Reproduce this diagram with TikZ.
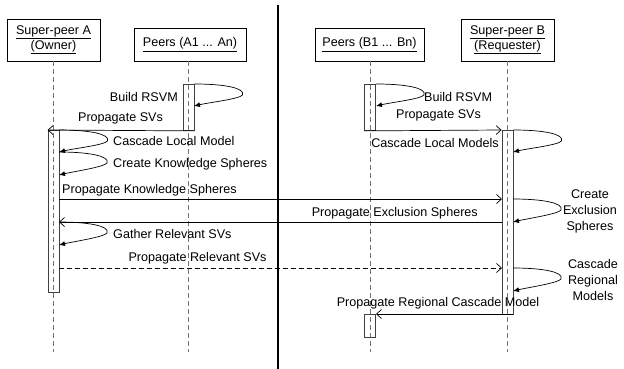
\documentclass[tikz,border=0pt]{standalone}
\usepackage{fontspec}
\setmainfont{Liberation Sans}
\usetikzlibrary{arrows.meta,calc}
\begin{document}
\begin{tikzpicture}[x=1pt,y=-1pt,
 every node/.style={font=\fontsize{12.6}{15}\selectfont},
 head/.style={draw,fill=white,align=center,inner sep=0pt,line width=0.8pt},
 act/.style={draw=black!75,line width=0.9pt,inner sep=0pt,minimum width=11pt,anchor=north},
 life/.style={draw=black!55,dash pattern=on 5pt off 3pt,line width=0.7pt},
 msg/.style={draw,line width=0.7pt,-{Straight Barb[length=5pt,width=9pt]}},
 self/.style={draw,line width=0.7pt,-{Latex[length=6pt,width=5pt]}},
 lbl/.style={inner sep=0pt},
 multi/.style={inner sep=0pt,align=center,font=\fontsize{12.6}{16}\selectfont}]
\useasboundingbox (0,0) rectangle (624,369);
% headers
\node[head,minimum width=93pt,minimum height=42pt] (sa) at (53.5,40) {\underline{Super-peer A}\\\underline{(Owner)}};
\node[head,minimum width=112pt,minimum height=33pt] (pa) at (190,44.5) {\underline{Peers (A1 ... An)}};
\node[head,minimum width=109pt,minimum height=33pt] (pb) at (369.5,44.5) {\underline{Peers (B1 ... Bn)}};
\node[head,minimum width=93pt,minimum height=42pt] (sb) at (507.5,40) {\underline{Super-peer B}\\\underline{(Requester)}};
% lifelines
\coordinate (saend) at (53.5,352);
\coordinate (patop) at (188.5,61);
\coordinate (paend) at (188.5,352);
\coordinate (pbtop) at (370,61);
\coordinate (pbend) at (370,352);
\coordinate (sbend) at (507.5,352);
\draw[life] (sa.south) -- (saend);
\draw[life] (patop) -- (paend);
\draw[life] (pbtop) -- (pbend);
\draw[life] (sb.south) -- (sbend);
% divider
\coordinate (dtop) at (278,5);
\coordinate (dbot) at (278,369);
\draw[line width=2pt] (dtop) -- (dbot);
% activation boxes
\node[act,minimum height=162pt] (sa1) at (53.5,130) {};
\node[act,minimum height=46pt] (pa1) at (188.5,84) {};
\node[act,minimum height=46pt] (pb1) at (370,84) {};
\node[act,minimum height=184pt] (sb1) at (507.5,130) {};
\node[act,minimum height=23pt] (pb2) at (370,314) {};
% self-message endpoints
\coordinate (pa1b) at (194,106);
\coordinate (pb1b) at (376,106);
\coordinate (sa1m) at (59,152);
\coordinate (sa1c) at (59,175);
\coordinate (sa1d) at (59,222);
\coordinate (sa1e) at (59,245);
\coordinate (sb1m) at (513,152);
\coordinate (sb1c) at (513,199);
\coordinate (sb1d) at (513,222);
\coordinate (sb1e) at (513,268);
\coordinate (sb1f) at (513,291);
\coordinate (sb1g) at (513,314);
\coordinate (sa1k) at (59,199);
\coordinate (sa1r) at (59,268);
\coordinate (sb1k) at (502,199);
\coordinate (sb1r) at (502,268);
% self messages (teardrop loops)
\tikzset{loopto/.style={to path={.. controls +(30,0) and +(3,-7) .. ++(48,11) .. controls +(-3,4) and +(16,-3.7) .. (\tikztotarget)}}}
\draw[self] (pa1.north east) to[loopto] (pa1b);
\draw[self] (pb1.north east) to[loopto] (pb1b);
\draw[self] (sa1.north east) to[loopto] (sa1m);
\draw[self] (sa1m) to[loopto] (sa1c);
\draw[self] (sa1d) to[loopto] (sa1e);
\draw[self] (sb1.north east) to[loopto] (sb1m);
\draw[self] (sb1c) to[loopto] (sb1d);
\draw[self] (sb1e) to[loopto] (sb1f);
% messages
\draw[msg] (pa1.south east) -- (sa1.north west);
\draw[msg] (pb1.south west) -- (sb1.north west);
\draw[msg] (sa1k) -- (sb1k);
\draw[msg] (sb1d -| sb1.west) -- (sa1d);
\draw[msg,dash pattern=on 5pt off 3pt] (sa1r) -- (sb1r);
\draw[msg] (sb1g) -- (pb2.north east);
% labels
\node[lbl,anchor=east] (t1) at (178,97) {Build RSVM};
\node[lbl] (t2) at (120.5,118) {Propagate SVs};
\node[lbl,anchor=west] (t3) at (424,97) {Build RSVM};
\node[lbl] (t4) at (438.5,115) {Propagate SVs};
\node[lbl,anchor=west] (t5) at (113,141) {Cascade Local Model};
\node[lbl,anchor=west] (t6) at (113,164) {Create Knowledge Spheres};
\node[lbl,anchor=west] (t7) at (62,190.5) {Propagate Knowledge Spheres};
\node[lbl,anchor=west] (t8) at (113,233.5) {Gather Relevant SVs};
\node[lbl,anchor=east] (t9) at (499,143) {Cascade Local Models};
\node[lbl,anchor=east] (t10) at (478,213.5) {Propagate Exclusion Spheres};
\node[multi] (t11) at (590,211) {Create\\Exclusion\\Spheres};
\node[lbl] (t12) at (197.5,258) {Propagate Relevant SVs};
\node[multi] (t13) at (593,280) {Cascade\\Regional\\Models};
\node[lbl] (t14) at (438,303) {Propagate Regional Cascade Model};
\end{tikzpicture}
\end{document}
